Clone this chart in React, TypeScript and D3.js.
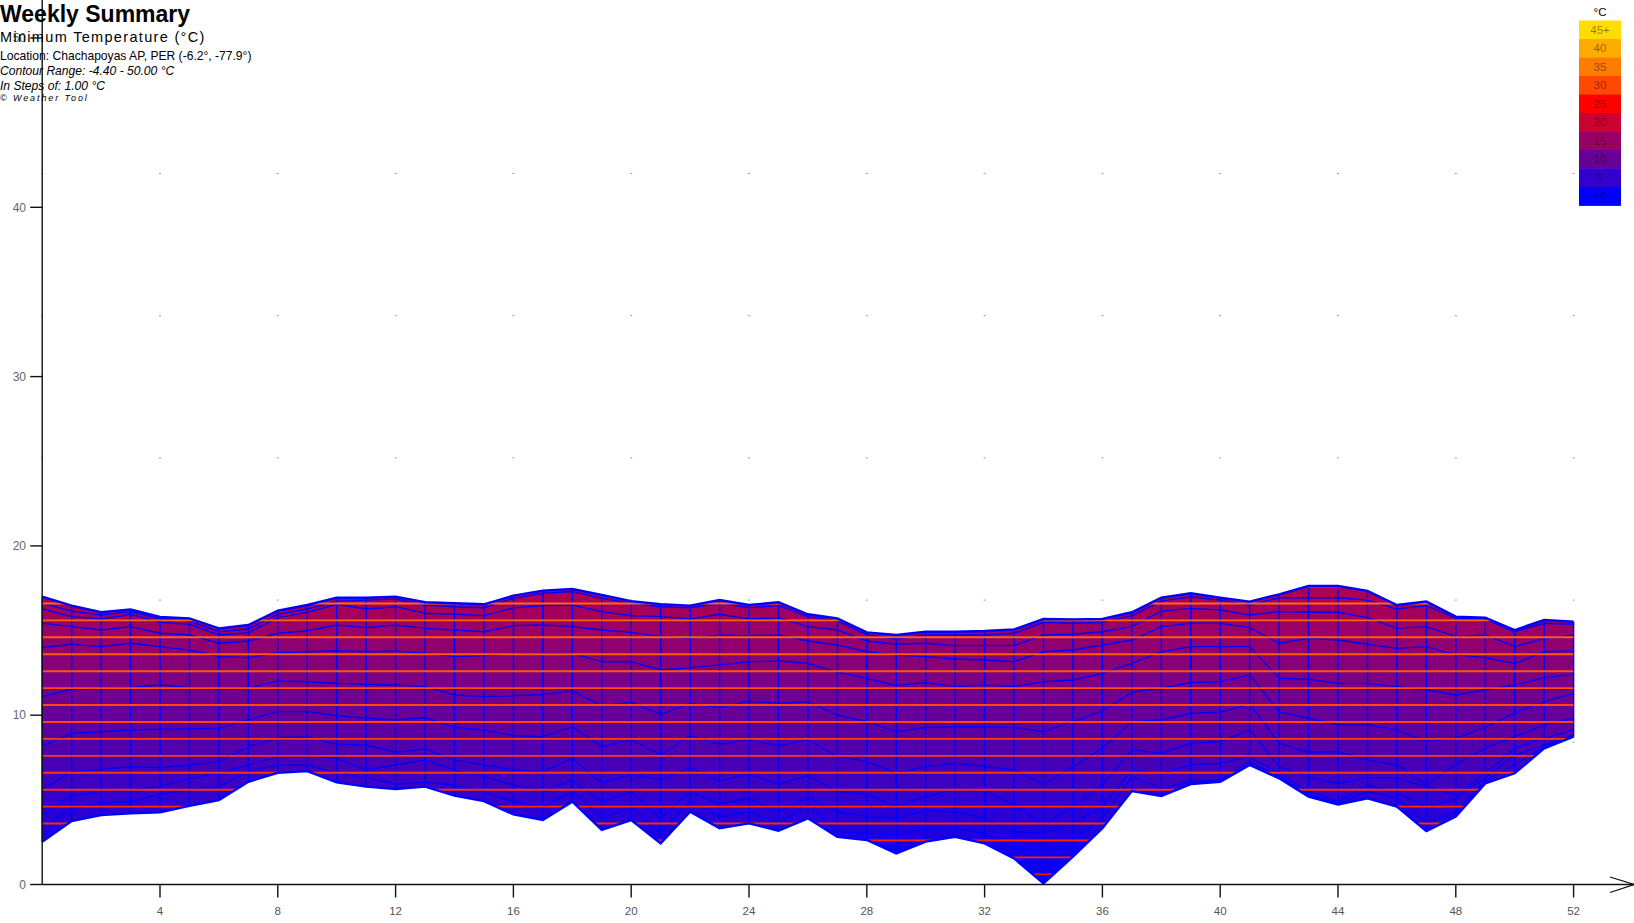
import React from "react";
import * as d3 from "d3";

// Weekly minimum temperature distribution (°C), weeks 0..52
const weeks = d3.range(0, 53);

const minTemp = [2.53, 3.75, 4.1, 4.2, 4.26, 4.64, 4.99, 6.07, 6.6, 6.7, 6.03, 5.78, 5.64, 5.78, 5.25, 4.93, 4.14, 3.81, 4.89, 3.22, 3.81, 2.43, 4.3, 3.32, 3.61, 3.18, 3.91, 2.82, 2.63, 1.84, 2.53, 2.82, 2.43, 1.54, 0.07, 1.64, 3.32, 5.52, 5.23, 5.93, 6.07, 7.06, 6.27, 5.19, 4.73, 5.09, 4.6, 3.16, 4.01, 5.97, 6.57, 8.04, 8.73];
const p02 = [3.42, 4.5, 4.8, 4.89, 5.33, 5.58, 5.78, 6.67, 7.06, 7.06, 6.57, 6.31, 5.92, 6.04, 5.88, 5.49, 4.89, 4.6, 5.49, 3.91, 4.6, 3.08, 4.89, 4.01, 4.3, 3.62, 4.7, 3.12, 3.02, 2.93, 3.32, 3.32, 3.02, 2.14, 1.94, 2.63, 3.91, 6.37, 5.68, 6.08, 6.17, 7.26, 6.37, 5.29, 4.8, 5.49, 5.09, 3.62, 4.3, 6.12, 7.06, 8.14, 8.73];
const p05 = [4.11, 5.25, 5.49, 5.58, 5.78, 6.27, 6.57, 7.06, 7.55, 7.55, 7.45, 6.76, 7.06, 7.36, 6.76, 6.37, 5.88, 5.49, 6.17, 4.89, 5.49, 3.91, 5.49, 4.74, 5.09, 4.3, 5.13, 4.3, 4.01, 3.91, 4.4, 4.3, 3.91, 3.12, 3.02, 3.62, 4.6, 6.76, 6.57, 7.06, 7.16, 7.55, 6.57, 5.49, 4.89, 5.88, 5.39, 4.6, 5.09, 6.31, 7.65, 8.24, 8.83];
const p10 = [5.62, 6.67, 6.8, 6.96, 6.9, 7.06, 7.26, 8.14, 8.67, 8.73, 8.28, 8.24, 7.81, 8.01, 7.36, 7.06, 6.76, 6.67, 7.45, 5.98, 6.51, 6.17, 6.9, 6.12, 6.51, 5.92, 6.43, 5.49, 5.33, 4.6, 5.19, 5.58, 5.49, 4.74, 3.52, 4.6, 5.88, 7.95, 7.75, 8.34, 8.44, 9.13, 6.96, 6.31, 5.98, 6.31, 6.27, 5.78, 5.29, 6.57, 8.05, 8.63, 9.13];
const p25 = [8.18, 8.93, 9.03, 9.13, 9.17, 9.19, 9.23, 9.72, 10.21, 10.21, 9.97, 9.82, 9.72, 9.86, 9.27, 9.13, 8.79, 8.73, 9.32, 8.14, 8.54, 7.65, 8.79, 8.28, 8.54, 8.2, 8.54, 7.55, 7.26, 6.57, 6.96, 7.16, 6.96, 6.76, 5.92, 6.96, 8.05, 9.62, 9.72, 10.11, 10.17, 10.64, 8.34, 7.81, 7.85, 7.36, 7.06, 5.88, 7.1, 8.05, 8.73, 9.42, 9.82];
const p50 = [11.1, 11.53, 11.59, 11.63, 11.78, 11.63, 11.55, 11.59, 12.02, 11.98, 11.88, 11.82, 11.78, 11.69, 11.19, 11.1, 11.15, 11.23, 11.43, 10.56, 10.76, 10.05, 10.7, 10.45, 10.84, 10.7, 10.8, 10.01, 9.62, 9.03, 9.27, 9.32, 9.32, 9.27, 9.03, 9.62, 10.25, 11.35, 11.59, 11.94, 11.98, 12.38, 10.21, 9.82, 9.42, 9.42, 9.13, 8.44, 8.63, 9.32, 10.11, 10.8, 11.29];
const p75 = [13.99, 14.19, 14.05, 14.25, 14.05, 13.85, 13.46, 13.4, 13.69, 13.75, 13.81, 13.75, 13.79, 13.65, 13.46, 13.52, 13.6, 13.65, 13.65, 13.16, 13.16, 12.67, 12.81, 12.97, 13.16, 13.2, 13.06, 12.53, 12.18, 11.74, 11.94, 11.69, 11.78, 11.69, 11.98, 12.08, 12.47, 13.06, 13.75, 14.05, 14.05, 14.05, 12.18, 12.12, 11.88, 11.88, 11.69, 11.49, 11.19, 11.49, 11.78, 12.22, 12.41];
const p90 = [15.43, 15.23, 15.03, 15.23, 14.84, 14.74, 14.25, 14.38, 14.84, 14.99, 15.33, 15.17, 15.33, 15.13, 15.03, 14.93, 15.29, 15.33, 15.23, 15.03, 14.89, 14.64, 14.54, 14.74, 14.7, 14.74, 14.38, 14.15, 13.75, 13.56, 13.46, 13.32, 13.26, 13.16, 13.75, 13.85, 14.15, 14.44, 15.23, 15.43, 15.43, 15.17, 14.25, 14.54, 14.44, 14.19, 13.95, 14.05, 13.56, 13.4, 13.06, 13.75, 13.79];
const p95 = [16.27, 15.82, 15.68, 15.96, 15.49, 15.37, 14.74, 14.87, 15.76, 16.08, 16.55, 16.27, 16.41, 16.02, 15.96, 15.88, 16.35, 16.47, 16.51, 16.12, 15.88, 15.82, 15.68, 15.96, 15.68, 15.76, 15.23, 15.03, 14.38, 14.19, 14.25, 14.11, 14.11, 14.11, 14.74, 14.78, 14.93, 15.23, 16.15, 16.31, 16.21, 15.92, 16.12, 16.08, 16.08, 15.76, 15.13, 15.23, 14.64, 14.74, 14.05, 14.54, 14.74];
const p98 = [16.61, 16.15, 15.92, 16.12, 15.68, 15.56, 14.93, 15.09, 15.96, 16.27, 16.74, 16.8, 16.86, 16.51, 16.41, 16.35, 16.9, 17.2, 17.3, 16.9, 16.61, 16.41, 16.35, 16.61, 16.35, 16.47, 15.82, 15.56, 14.74, 14.5, 14.74, 14.74, 14.74, 14.84, 15.49, 15.43, 15.49, 15.88, 16.74, 17.0, 16.8, 16.51, 16.94, 16.94, 16.94, 16.8, 16.27, 16.47, 15.72, 15.68, 14.93, 15.43, 15.37];
const maxTemp = [17.0, 16.47, 16.08, 16.25, 15.8, 15.72, 15.13, 15.33, 16.17, 16.51, 16.94, 16.94, 17.0, 16.67, 16.61, 16.55, 17.06, 17.36, 17.45, 17.1, 16.74, 16.55, 16.47, 16.8, 16.51, 16.67, 15.96, 15.72, 14.89, 14.74, 14.93, 14.93, 14.97, 15.07, 15.68, 15.66, 15.68, 16.08, 16.94, 17.2, 16.94, 16.71, 17.14, 17.63, 17.63, 17.34, 16.51, 16.71, 15.82, 15.76, 15.03, 15.62, 15.52];

const percentileLines = [p02, p05, p10, p25, p50, p75, p90, p95, p98];

// Contour settings
const contourStart = -4.4;
const contourStep = 1.0;

// Axis ticks and reference grid
const yTicks = [0, 10, 20, 30, 40, 50];
const xTicks = d3.range(4, 53, 4);
const gridWeeks = d3.range(0, 53, 4);
const gridLevels = [8.4, 16.8, 25.2, 33.6, 42.0];

// Legend
const legendLabels = ["45+", "40", "35", "30", "25", "20", "15", "10", "5", "<0"];
const legendValues = [45, 40, 35, 30, 25, 20, 15, 10, 5, 0];
const colorStops = [0, 5, 10, 15, 20, 25, 30, 35, 40, 45];
const colorRange = ["#0000ff", "#3300cc", "#660099", "#990066", "#cc0033", "#ff0000", "#ff4800", "#ff7a00", "#ffac00", "#ffdd00"];

const FONT = "'Liberation Sans', Arial, Helvetica, sans-serif";

export default function App() {
  const W = 1634;
  const H = 923;

  const x = d3.scaleLinear().domain([0, 52]).range([42.2, 1573.6]);
  const y = d3.scaleLinear().domain([0, 50]).range([884.5, 38]);

  const color = d3
    .scaleLinear<string>()
    .domain(colorStops)
    .range(colorRange)
    .interpolate(d3.interpolateRgb)
    .clamp(true);

  const bandArea = d3
    .area<number>()
    .x((i) => x(i))
    .y0((i) => y(minTemp[i]))
    .y1((i) => y(maxTemp[i]));
  const bandPath = bandArea(weeks) || "";

  const lineGen = (arr: number[]) =>
    d3
      .line<number>()
      .x((i) => x(i))
      .y((i) => y(arr[i]))(weeks) || "";

  const lo = d3.min(minTemp) as number;
  const hi = d3.max(maxTemp) as number;

  // contour levels covering the data range
  const levels: number[] = [];
  for (let k = 0; k < 60; k++) {
    const v = Math.round((contourStart + k * contourStep) * 100) / 100;
    if (v > hi + contourStep) break;
    levels.push(v);
  }
  const bands = levels
    .slice(0, -1)
    .map((l, i) => [l, levels[i + 1]])
    .filter(([a, b]) => b > lo && a < hi);
  const isolines = levels.filter((l) => l > lo && l < hi);

  const lineColor = d3.interpolateRgb("#ff1400", "#ff6a10");

  const legendX = 1579;
  const legendTop = 20.5;
  const legendW = 42;
  const legendH = 18.5;

  return (
    <svg
      width={W}
      height={H}
      style={{ position: "absolute", left: 0, top: 0, background: "#fff" }}
      fontFamily={FONT}
    >
      <defs>
        <clipPath id="bandClip">
          <path d={bandPath} />
        </clipPath>
      </defs>

      {/* reference grid dots */}
      {gridWeeks.map((w) =>
        gridLevels.map((g) => (
          <rect key={`g${w}-${g}`} x={x(w) - 1} y={y(g) - 0.5} width={2} height={1} fill="#999" />
        ))
      )}

      {/* filled contour bands */}
      <g clipPath="url(#bandClip)">
        {bands.map(([a, b]) => (
          <rect
            key={`b${a}`}
            x={x(0) - 2}
            width={x(52) - x(0) + 4}
            y={y(b) - 0.3}
            height={y(a) - y(b) + 0.6}
            fill={color((a + b) / 2)}
          />
        ))}
      </g>

      {/* weekly verticals */}
      {weeks.map((i) => (
        <line
          key={`v${i}`}
          x1={x(i)}
          x2={x(i)}
          y1={y(minTemp[i])}
          y2={y(maxTemp[i])}
          stroke="#0000ff"
          strokeWidth={1.5}
        />
      ))}

      {/* percentile lines */}
      {percentileLines.map((arr, k) => (
        <path key={`p${k}`} d={lineGen(arr)} fill="none" stroke="#0000ff" strokeWidth={1.4} />
      ))}

      {/* contour isolines */}
      <g clipPath="url(#bandClip)">
        {isolines.map((l) => (
          <line
            key={`c${l}`}
            x1={x(0)}
            x2={x(52)}
            y1={y(l)}
            y2={y(l)}
            stroke={lineColor(Math.max(0, Math.min(1, l / 17)))}
            strokeWidth={1.9}
          />
        ))}
      </g>

      {/* band outline */}
      <path d={lineGen(maxTemp)} fill="none" stroke="#0000ff" strokeWidth={2.4} />
      <path d={lineGen(minTemp)} fill="none" stroke="#0000ff" strokeWidth={2.4} />

      {/* y axis */}
      <line x1={x(0)} x2={x(0)} y1={0} y2={y(0)} stroke="#111" strokeWidth={1.4} />
      {yTicks.map((t) => (
        <g key={`yt${t}`}>
          <line x1={x(0) - 12} x2={x(0)} y1={y(t)} y2={y(t)} stroke="#111" strokeWidth={1.4} />
          <text x={26} y={y(t) + 4.2} textAnchor="end" fontSize={12} fill="#666">
            {t}
          </text>
        </g>
      ))}

      {/* x axis */}
      <line x1={x(0)} x2={W} y1={y(0)} y2={y(0)} stroke="#111" strokeWidth={1.4} />
      <polyline
        points={`${W - 24},${y(0) - 7.5} ${W},${y(0)} ${W - 24},${y(0) + 8}`}
        fill="none"
        stroke="#111"
        strokeWidth={1.2}
      />
      {xTicks.map((t) => (
        <g key={`xt${t}`}>
          <line x1={x(t)} x2={x(t)} y1={y(0)} y2={y(0) + 13} stroke="#111" strokeWidth={1.4} />
          <text x={x(t)} y={915} textAnchor="middle" fontSize={11.5} fill="#555">
            {t}
          </text>
        </g>
      ))}

      {/* titles */}
      <text x={0} y={22.2} fontSize={23} fontWeight="bold" fill="#000">
        Weekly Summary
      </text>
      <text x={0} y={42.2} fontSize={14.5} letterSpacing={1.32} fill="#000">
        Minimum Temperature (°C)
      </text>
      <text x={0} y={59.6} fontSize={12.1} fill="#000">
        Location: Chachapoyas AP, PER (-6.2°, -77.9°)
      </text>
      <text x={0} y={74.6} fontSize={12.1} fontStyle="italic" fill="#000">
        Contour Range: -4.40 - 50.00 °C
      </text>
      <text x={0} y={89.6} fontSize={12.1} fontStyle="italic" fill="#000">
        In Steps of: 1.00 °C
      </text>
      <text x={0} y={100.6} fontSize={9} fontStyle="italic" letterSpacing={1.9} fill="#000">
        © Weather Tool
      </text>

      {/* legend */}
      <text x={legendX + legendW / 2} y={15.5} textAnchor="middle" fontSize={11.5} fill="#000">
        °C
      </text>
      {legendLabels.map((lab, i) => (
        <g key={`lg${i}`}>
          <rect
            x={legendX}
            y={legendTop + i * legendH}
            width={legendW}
            height={legendH + 0.4}
            fill={color(legendValues[i])}
          />
          <text
            x={legendX + legendW / 2}
            y={legendTop + i * legendH + 13.2}
            textAnchor="middle"
            fontSize={11.5}
            fill="rgba(0,0,0,0.45)"
          >
            {lab}
          </text>
        </g>
      ))}
    </svg>
  );
}
